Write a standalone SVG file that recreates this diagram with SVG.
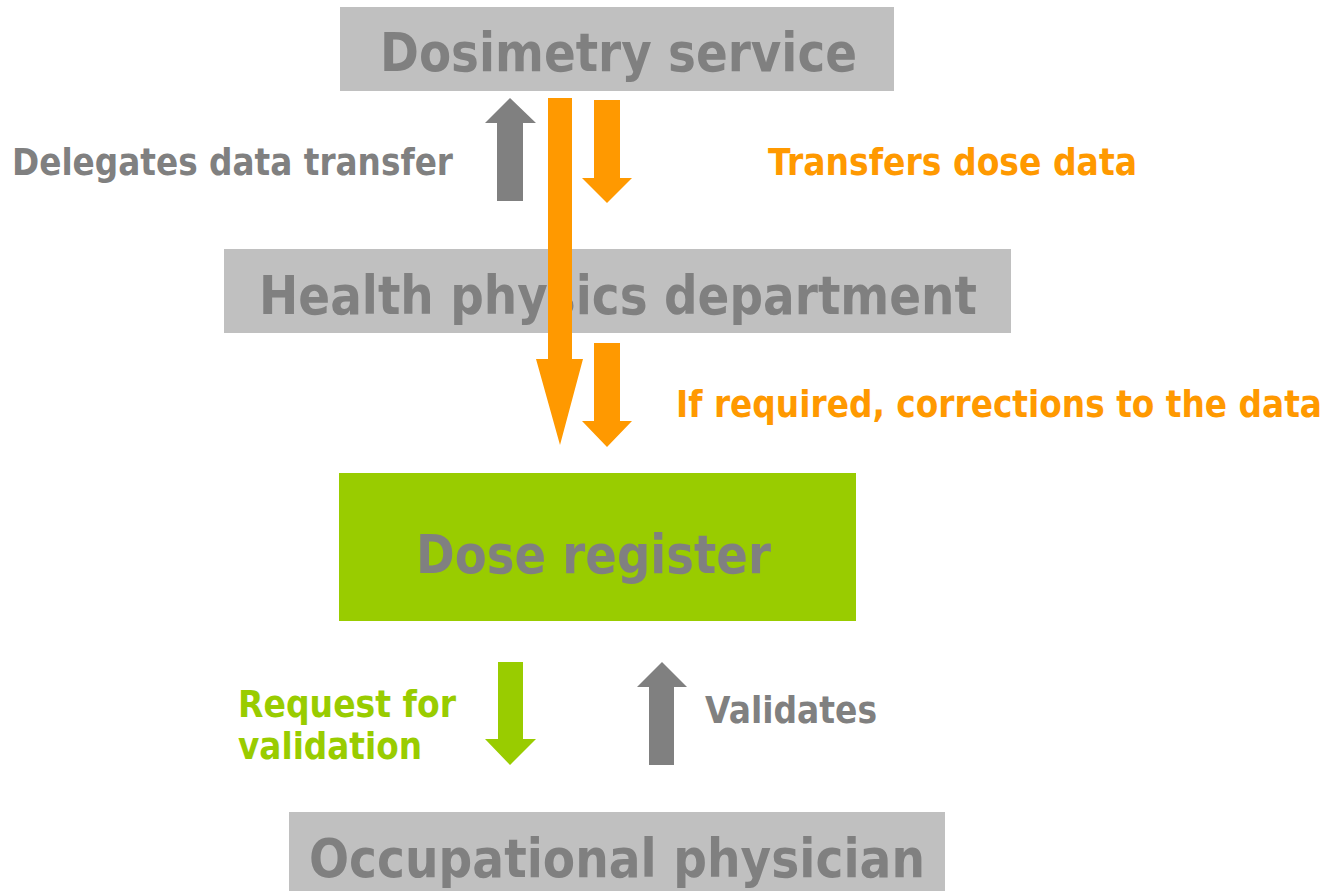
<svg xmlns="http://www.w3.org/2000/svg" width="1333" height="891" viewBox="0 0 1333 891">
<style>
.box{fill:#C0C0C0}
.green{fill:#99CC00}
.t{font-family:"DejaVu Sans","Liberation Sans",sans-serif;font-weight:bold}
.title{font-size:54px;fill:#808080}
.lbl{font-size:38px}
.gray{fill:#808080}
.orange{fill:#FF9900}
.lg{fill:#99CC00}
</style>
<rect width="1333" height="891" fill="#FFFFFF"/>
<g id="dosimetry-service">
<rect class="box" x="340" y="7" width="554" height="84"/>
<text class="t title" x="380" y="71" textLength="477" lengthAdjust="spacingAndGlyphs">Dosimetry service</text>
</g>
<g id="health-physics">
<rect class="box" x="224" y="249" width="787" height="84"/>
<text class="t title" x="259" y="314" textLength="718" lengthAdjust="spacingAndGlyphs">Health physics department</text>
</g>
<g id="dose-register">
<rect class="green" x="339" y="473" width="517" height="148"/>
<text class="t title" x="416" y="573" textLength="355" lengthAdjust="spacingAndGlyphs">Dose register</text>
</g>
<g id="occupational-physician">
<rect class="box" x="289" y="812" width="656" height="79"/>
<text class="t title" x="309" y="877" textLength="616" lengthAdjust="spacingAndGlyphs">Occupational physician</text>
</g>
<g id="connectors">
<polygon class="gray" points="510,98 536,123 523,123 523,201 497,201 497,123 485,123"/>
<polygon class="orange" points="548,98 572,98 572,359 583,359 560,445 536,359 548,359"/>
<polygon class="orange" points="594,100 620,100 620,178 632,178 607,203 582,178 594,178"/>
<polygon class="orange" points="594,343 620,343 620,421 632,421 607,447 582,421 594,421"/>
<polygon class="lg" points="498,662 523,662 523,739 536,739 510,765 485,739 498,739"/>
<polygon class="gray" points="662,662 687,687 674,687 674,765 649,765 649,687 637,687"/>
</g>
<g id="labels">
<text class="t lbl gray" x="12" y="175" textLength="441" lengthAdjust="spacingAndGlyphs">Delegates data transfer</text>
<text class="t lbl orange" x="768" y="175" textLength="369" lengthAdjust="spacingAndGlyphs">Transfers dose data</text>
<text class="t lbl orange" x="676" y="417" textLength="646" lengthAdjust="spacingAndGlyphs">If required, corrections to the data</text>
<text class="t lbl lg" x="238" y="717" textLength="218" lengthAdjust="spacingAndGlyphs">Request for</text>
<text class="t lbl lg" x="238" y="759" textLength="184" lengthAdjust="spacingAndGlyphs">validation</text>
<text class="t lbl gray" x="705" y="723" textLength="172" lengthAdjust="spacingAndGlyphs">Validates</text>
</g>
</svg>
